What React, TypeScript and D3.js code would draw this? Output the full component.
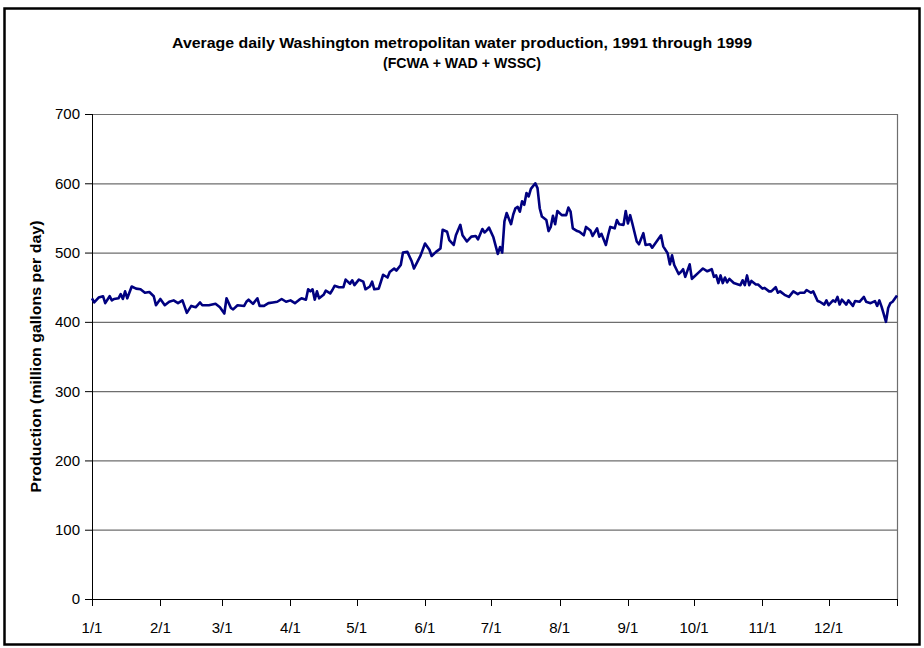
import React, { useRef, useEffect } from "react";
import { select, scaleLinear, line } from "d3";

const TITLE =
  "Average daily Washington metropolitan water production, 1991 through 1999";
const SUBTITLE = "(FCWA + WAD + WSSC)";
const Y_TITLE = "Production (million gallons per day)";

// day of year where each month starts (last = end of year)
const monthStarts = [0, 31, 59, 90, 120, 151, 181, 212, 243, 273, 304, 334, 365];
const monthLabels = ["1/1", "2/1", "3/1", "4/1", "5/1", "6/1", "7/1", "8/1", "9/1", "10/1", "11/1", "12/1"];
const yTicks = [0, 100, 200, 300, 400, 500, 600, 700];

// [day of year, million gallons per day]
const production: [number, number][] = [
  [0, 434], [1, 428], [3, 435], [5, 437], [6, 427], [8, 437], [9, 431], [10, 433],
  [12, 434], [13, 440], [14, 433], [15, 444], [16, 434], [18, 451], [20, 448], [22, 447],
  [24, 442], [26, 443], [28, 437], [29, 424], [31, 433], [33, 424], [35, 429], [37, 431],
  [39, 427], [41, 431], [43, 413], [45, 423], [47, 421], [49, 428], [50, 424], [53, 424],
  [56, 426], [58, 421], [60, 412], [61, 434], [63, 420], [64, 418], [66, 424], [69, 423],
  [70, 429], [71, 432], [73, 426], [75, 434], [76, 423], [78, 423], [80, 427], [82, 428],
  [84, 429], [86, 433], [88, 429], [90, 431], [92, 427], [94, 432], [95, 434], [97, 432],
  [98, 447], [99, 444], [100, 447], [101, 432], [102, 444], [103, 434], [105, 439], [106, 445],
  [108, 441], [109, 446], [110, 452], [112, 450], [114, 450], [115, 461], [117, 455], [118, 460],
  [119, 453], [121, 461], [123, 458], [124, 447], [126, 451], [127, 458], [128, 447], [130, 448],
  [132, 468], [134, 464], [135, 472], [137, 477], [138, 474], [140, 482], [141, 500], [143, 501],
  [145, 487], [146, 477], [149, 496], [151, 513], [153, 504], [154, 495], [156, 501], [158, 506],
  [159, 533], [161, 530], [162, 518], [164, 511], [165, 525], [167, 540], [168, 525], [170, 516],
  [172, 523], [174, 524], [175, 519], [177, 534], [178, 529], [179, 532], [180, 536], [182, 522],
  [184, 498], [185, 508], [186, 500], [187, 545], [188, 557], [190, 541], [191, 555], [192, 564],
  [193, 566], [194, 559], [195, 574], [196, 569], [197, 586], [198, 581], [199, 592], [201, 600],
  [202, 593], [203, 564], [204, 552], [206, 547], [207, 531], [208, 537], [209, 553], [210, 541],
  [211, 560], [213, 554], [215, 554], [216, 565], [217, 559], [218, 535], [220, 531], [221, 530],
  [223, 525], [224, 537], [226, 532], [227, 524], [229, 535], [230, 523], [231, 527], [233, 511],
  [234, 525], [235, 537], [237, 535], [238, 547], [239, 541], [241, 540], [242, 560], [243, 542],
  [244, 554], [245, 542], [247, 516], [248, 512], [250, 528], [251, 511], [253, 512], [254, 507],
  [256, 516], [258, 525], [259, 509], [261, 499], [262, 483], [263, 496], [264, 482], [266, 469],
  [267, 472], [268, 476], [269, 465], [271, 483], [272, 462], [273, 465], [275, 471], [277, 477],
  [279, 473], [281, 476], [282, 465], [283, 467], [284, 456], [285, 467], [286, 456], [287, 464],
  [288, 457], [289, 462], [291, 456], [293, 454], [294, 453], [295, 460], [296, 453], [297, 467],
  [298, 453], [299, 459], [301, 454], [302, 454], [304, 448], [305, 449], [307, 444], [308, 444],
  [310, 450], [311, 442], [312, 444], [314, 439], [316, 436], [317, 440], [318, 444], [320, 440],
  [321, 442], [323, 442], [324, 446], [326, 442], [327, 444], [329, 430], [330, 429], [332, 425],
  [333, 431], [334, 424], [336, 431], [337, 429], [338, 436], [339, 425], [340, 432], [342, 425],
  [343, 431], [345, 423], [346, 430], [348, 429], [350, 436], [351, 429], [353, 427], [355, 430],
  [356, 423], [357, 431], [358, 422], [359, 411], [360, 400], [361, 420], [362, 427], [363, 429],
  [365, 438],
];

const FONT = "'Liberation Sans', Arial, sans-serif";

export default function App() {
  const svgRef = useRef<SVGSVGElement>(null);

  useEffect(() => {
    const svg = select(svgRef.current);
    svg.selectAll("*").remove();

    const left = 92, right = 897, top = 114, bottom = 599;
    const x = scaleLinear().domain([0, 365]).range([left, right]);
    const y = scaleLinear().domain([0, 700]).range([bottom, top]);

    svg.append("rect").attr("width", 924).attr("height", 648).attr("fill", "#fff");
    // outer chart frame
    svg.append("rect")
      .attr("x", 4.5).attr("y", 8.5).attr("width", 915).attr("height", 636)
      .attr("fill", "none").attr("stroke", "#000").attr("stroke-width", 2.5);

    svg.append("text")
      .attr("x", 462).attr("y", 48)
      .attr("text-anchor", "middle")
      .attr("font-family", FONT).attr("font-weight", "bold").attr("font-size", 15)
      .attr("textLength", 580).attr("lengthAdjust", "spacingAndGlyphs")
      .text(TITLE);
    svg.append("text")
      .attr("x", 462).attr("y", 68)
      .attr("text-anchor", "middle")
      .attr("font-family", FONT).attr("font-weight", "bold").attr("font-size", 15)
      .attr("textLength", 158).attr("lengthAdjust", "spacingAndGlyphs")
      .text(SUBTITLE);

    // gridlines
    svg.append("g")
      .selectAll("line")
      .data(yTicks.filter((d) => d > 0))
      .join("line")
      .attr("x1", left).attr("x2", right)
      .attr("y1", (d) => y(d) + 0.5).attr("y2", (d) => y(d) + 0.5)
      .attr("stroke", "#6e6e6e").attr("stroke-width", 1.2);
    // right edge of the plot area
    svg.append("line")
      .attr("x1", right + 0.5).attr("x2", right + 0.5)
      .attr("y1", top).attr("y2", bottom)
      .attr("stroke", "#6e6e6e").attr("stroke-width", 1.2);

    // y axis
    svg.append("line")
      .attr("x1", left + 0.5).attr("x2", left + 0.5)
      .attr("y1", top).attr("y2", bottom + 0.5)
      .attr("stroke", "#000");
    const yg = svg.append("g");
    yg.selectAll("line")
      .data(yTicks)
      .join("line")
      .attr("x1", left - 7).attr("x2", left)
      .attr("y1", (d) => y(d) + 0.5).attr("y2", (d) => y(d) + 0.5)
      .attr("stroke", "#000");
    yg.selectAll("text")
      .data(yTicks)
      .join("text")
      .attr("x", left - 12).attr("y", (d) => y(d))
      .attr("dy", "0.36em")
      .attr("text-anchor", "end")
      .attr("font-family", FONT).attr("font-size", 15)
      .text((d) => d);

    // x axis
    svg.append("line")
      .attr("x1", left).attr("x2", right + 1)
      .attr("y1", bottom + 0.5).attr("y2", bottom + 0.5)
      .attr("stroke", "#000");
    const xg = svg.append("g");
    xg.selectAll("line")
      .data(monthStarts)
      .join("line")
      .attr("x1", (d) => Math.round(x(d)) + 0.5).attr("x2", (d) => Math.round(x(d)) + 0.5)
      .attr("y1", bottom).attr("y2", bottom + 7)
      .attr("stroke", "#000");
    xg.selectAll("text")
      .data(monthLabels)
      .join("text")
      .attr("x", (d, i) => x(monthStarts[i]))
      .attr("y", 633)
      .attr("text-anchor", "middle")
      .attr("font-family", FONT).attr("font-size", 15)
      .text((d) => d);

    svg.append("text")
      .attr("transform", `translate(41,${(top + bottom) / 2}) rotate(-90)`)
      .attr("text-anchor", "middle")
      .attr("font-family", FONT).attr("font-weight", "bold").attr("font-size", 15)
      .attr("textLength", 272).attr("lengthAdjust", "spacingAndGlyphs")
      .text(Y_TITLE);

    // the series
    svg.append("path")
      .datum(production)
      .attr("fill", "none")
      .attr("stroke", "#000080")
      .attr("stroke-width", 2.6)
      .attr("stroke-linejoin", "round")
      .attr("d", line<[number, number]>().x((d) => x(d[0])).y((d) => y(d[1])));

    return () => {
      svg.selectAll("*").remove();
    };
  }, []);

  return (
    <svg
      ref={svgRef}
      width={924}
      height={648}
      style={{ position: "absolute", left: 0, top: 0 }}
    />
  );
}
